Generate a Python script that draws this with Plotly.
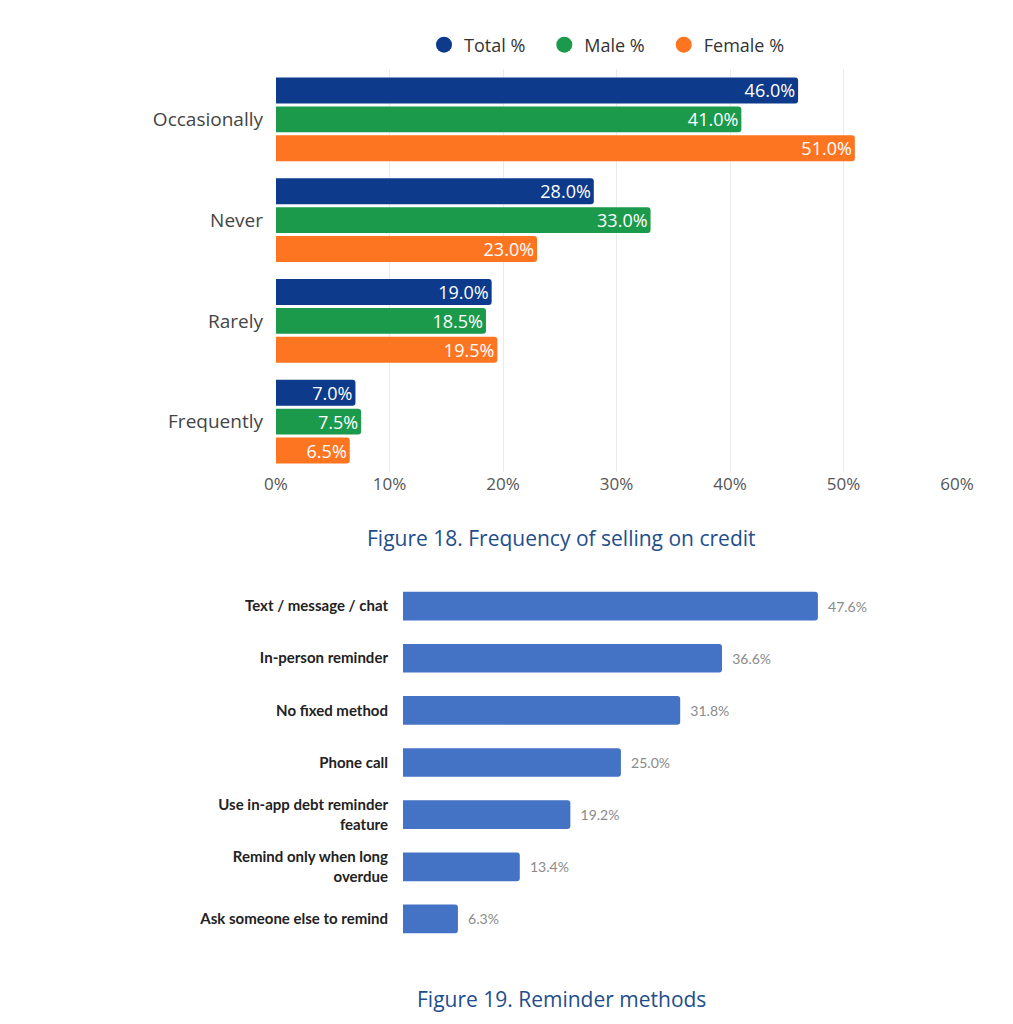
import plotly.graph_objects as go

# Figure 18 data
freq_categories = ["Occasionally", "Never", "Rarely", "Frequently"]
total_pct = [46.0, 28.0, 19.0, 7.0]
male_pct = [41.0, 33.0, 18.5, 7.5]
female_pct = [51.0, 23.0, 19.5, 6.5]
freq_ticks = [0, 10, 20, 30, 40, 50, 60]
freq_ticklabels = ["0%", "10%", "20%", "30%", "40%", "50%", "60%"]

# Figure 19 data
methods = [
    "Text / message / chat",
    "In-person reminder",
    "No fixed method",
    "Phone call",
    "Use in-app debt reminder<br>feature",
    "Remind only when long<br>overdue",
    "Ask someone else to remind",
]
method_pct = [47.6, 36.6, 31.8, 25.0, 19.2, 13.4, 6.3]

# page body has an 8px margin, so the figure is drawn a bit smaller
OFF = 8
W, H = 1013 - 2 * OFF, 1024 - 2 * OFF


def px(x):
    return (x - OFF) / W


def py(y):
    return 1 - (y - OFF) / H


series = [
    ("Total %", total_pct, "#0d3a8a"),
    ("Male %", male_pct, "#1b9a4b"),
    ("Female %", female_pct, "#fd7521"),
]

fig = go.Figure()

for name, vals, color in series:
    fig.add_trace(go.Bar(
        y=freq_categories, x=vals, orientation="h", name=name,
        marker=dict(color=color, line=dict(width=0)),
        text=[f"{v:.1f}%" for v in vals], textposition="inside",
        insidetextanchor="end", textangle=0, constraintext="none",
        textfont=dict(family="Open Sans", size=18, color="white"),
        showlegend=False, xaxis="x", yaxis="y", hoverinfo="skip",
    ))
    # circle markers for the legend
    fig.add_trace(go.Scatter(
        x=[None], y=[None], mode="markers", name=name + "\u00a0\u00a0\u00a0",
        marker=dict(symbol="circle", size=17, color=color),
        xaxis="x", yaxis="y",
    ))

fig.add_trace(go.Bar(
    y=methods, x=method_pct, orientation="h",
    marker=dict(color="#4472c4", line=dict(width=0)),
    text=[f"\u00a0\u00a0{v:.1f}%" for v in method_pct], textposition="outside",
    textfont=dict(family="Lato", size=14, color="#8a8a8a"),
    cliponaxis=False, showlegend=False, xaxis="x2", yaxis="y2",
    width=0.55, hoverinfo="skip",
))

fig.update_layout(
    width=W, height=H,
    margin=dict(l=0, r=0, t=0, b=0, autoexpand=False),
    paper_bgcolor="white", plot_bgcolor="white",
    barmode="group", bargap=0.14, bargroupgap=0.1,
    barcornerradius=3,
    showlegend=True,
    legend=dict(orientation="h", x=px(424), xanchor="left",
                y=py(45), yanchor="middle",
                font=dict(family="Open Sans", size=18, color="#333333"),
                itemwidth=30, tracegroupgap=0),
    xaxis=dict(domain=[px(276), px(957)], range=[0, 60],
               tickvals=freq_ticks, ticktext=freq_ticklabels,
               showgrid=True, gridcolor="#ebebeb", zeroline=False,
               showline=False, ticks="", anchor="y", automargin=False,
               tickfont=dict(family="Open Sans", size=17, color="#555555")),
    yaxis=dict(domain=[py(472), py(69)], autorange="reversed",
               showgrid=False, zeroline=False, showline=False, ticks="",
               ticklabelstandoff=12, anchor="x", automargin=False,
               tickfont=dict(family="Open Sans", size=19, color="#444444")),
    xaxis2=dict(domain=[px(403), px(926)], range=[0, 60], visible=False,
                anchor="y2", automargin=False),
    yaxis2=dict(domain=[py(945), py(580)], autorange="reversed",
                showgrid=False, zeroline=False, showline=False, ticks="",
                ticklabelstandoff=14, anchor="x2", automargin=False,
                tickfont=dict(family="Lato", size=15, color="#222222",
                              weight="bold")),
    annotations=[
        dict(text="Figure 18. Frequency of selling on credit", x=px(561),
             y=py(538), xref="paper", yref="paper", showarrow=False,
             xanchor="center", yanchor="middle",
             font=dict(family="Open Sans", size=21, color="#1f4e8c")),
        dict(text="Figure 19. Reminder methods", x=px(561),
             y=py(999), xref="paper", yref="paper", showarrow=False,
             xanchor="center", yanchor="middle",
             font=dict(family="Open Sans", size=21, color="#1f4e8c")),
    ],
)

fig.write_html("out.html")
